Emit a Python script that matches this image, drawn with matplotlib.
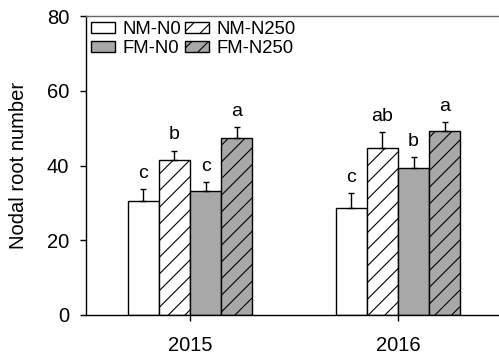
import matplotlib.pyplot as plt
import numpy as np

plt.rcParams['font.family'] = ['Liberation Sans', 'DejaVu Sans']
plt.rcParams['hatch.linewidth'] = 0.8

# ======== Data ========
years = ['2015', '2016']
treatments = ['NM-N0', 'NM-N250', 'FM-N0', 'FM-N250']
means = {
    'NM-N0':   [30.6, 28.7],
    'NM-N250': [41.6, 44.7],
    'FM-N0':   [33.2, 39.2],
    'FM-N250': [47.4, 49.3],
}
errs = {
    'NM-N0':   [3.0, 3.9],
    'NM-N250': [2.4, 4.3],
    'FM-N0':   [2.3, 3.1],
    'FM-N250': [2.9, 2.3],
}
letters = {
    'NM-N0':   ['c', 'c'],
    'NM-N250': ['b', 'ab'],
    'FM-N0':   ['c', 'b'],
    'FM-N250': ['a', 'a'],
}

# ======== Styles ========
colors = {'NM-N0': 'white', 'NM-N250': 'white', 'FM-N0': '#a8a8a8', 'FM-N250': '#a8a8a8'}
hatches = {'NM-N0': None, 'NM-N250': '//', 'FM-N0': None, 'FM-N250': '//'}

fig = plt.figure(figsize=(4.99, 3.57), dpi=100)
ax = fig.add_axes([86 / 499, 1 - 315 / 357, 416 / 499, 299 / 357])

x = np.arange(len(years))
width = 0.15
handles = {}
for i, t in enumerate(treatments):
    pos = x + (i - 1.5) * width
    bars = ax.bar(pos, means[t], width, color=colors[t], edgecolor='black',
                  linewidth=1, hatch=hatches[t], label=t)
    handles[t] = bars
    ax.errorbar(pos, means[t], yerr=[np.zeros(len(years)), errs[t]], fmt='none',
                ecolor='black', elinewidth=1, capsize=2.5, capthick=1)
    for p, m, e, lab in zip(pos, means[t], errs[t], letters[t]):
        ax.text(p, m + e + 3.0, lab, ha='center', va='baseline', fontsize=14)

ax.set_xlim(-0.5, 1.5)
ax.set_ylim(0, 80)
ax.set_xticks(x)
ax.set_xticklabels(years)
ax.set_yticks([0, 20, 40, 60, 80])
ax.tick_params(axis='both', labelsize=14.5, direction='out', length=4, width=1)
ax.tick_params(axis='x', pad=11)
ax.tick_params(axis='y', pad=8)
ax.set_ylabel('Nodal root number', fontsize=14.5, labelpad=14)

ax.spines['right'].set_visible(False)
for s in ['top', 'left', 'bottom']:
    ax.spines[s].set_linewidth(1)
ax.spines['top'].set_color('0.4')

order = ['NM-N0', 'FM-N0', 'NM-N250', 'FM-N250']
ax.legend([handles[t] for t in order], order, ncol=2, loc='upper left',
          bbox_to_anchor=(-0.015, 1.02), frameon=False, fontsize=13.3,
          handlelength=1.3, handleheight=0.55, handletextpad=0.4,
          columnspacing=0.2, labelspacing=0.1, borderaxespad=0.2)

fig.savefig('out.png', dpi=100)
